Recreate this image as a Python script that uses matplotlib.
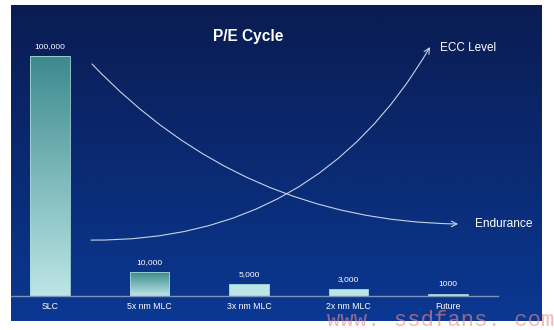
import numpy as np
import matplotlib
matplotlib.use("Agg")
import matplotlib.pyplot as plt
from matplotlib.colors import LinearSegmentedColormap

categories = ["SLC", "5x nm MLC", "3x nm MLC", "2x nm MLC", "Future"]
values = [100000, 10000, 5000, 3000, 1000]
value_labels = ["100,000", "10,000", "5,000", "3,000", "1000"]
title = "P/E Cycle"
curve_labels = ["ECC Level", "Endurance"]

plt.rcParams['font.family'] = ['Liberation Sans', 'DejaVu Sans']

W, H = 554, 330
fig = plt.figure(figsize=(W / 100, H / 100), dpi=100, facecolor='white')
ax = fig.add_axes([11 / W, 9 / H, 531 / W, 316 / H])

xlim = (-0.392, 4.945)
ylim = (-10417, 121250)
ax.set_xlim(*xlim)
ax.set_ylim(*ylim)

# background gradient
bg = LinearSegmentedColormap.from_list("bg", ["#0a3892", "#0a1c52"])
grad = np.linspace(0, 1, 256).reshape(-1, 1)
ax.imshow(grad, aspect='auto', cmap=bg, origin='lower',
          extent=(0, 1, 0, 1), transform=ax.transAxes, zorder=0)

# bars with gradient
barcm = LinearSegmentedColormap.from_list("bar", ["#bde6e6", "#3c8a8e"])
bw = 0.40
x = np.arange(len(categories))
bars = ax.bar(x, values, width=bw, color='none', edgecolor='#a8d8d8',
              linewidth=0.6, zorder=3)
for b, v in zip(bars, values):
    x0 = b.get_x()
    if v >= 10000:
        g = np.linspace(0, 1, 256).reshape(-1, 1)
        im = ax.imshow(g, aspect='auto', cmap=barcm, origin='lower',
                       extent=(x0, x0 + bw, 0, v), zorder=2)
        im.set_clip_path(b)
    else:
        b.set_facecolor('#bce5e5')

for xi, v, lab in zip(x, values, value_labels):
    ax.annotate(lab, (xi, v), xytext=(0, 4), textcoords='offset points',
                ha='center', va='bottom', fontsize=6.1, color='white', zorder=5)

# baseline
ax.axhline(0, xmin=0, xmax=487 / 531, color='#8090b8', linewidth=1.0, zorder=4)

ax.set_xticks(x)
ax.set_xticklabels(categories, fontsize=6.3, color='white')
ax.tick_params(axis='x', length=0, pad=0)
ax.set_yticks([])
for s in ax.spines.values():
    s.set_visible(False)
for t in ax.get_xticklabels():
    t.set_transform(ax.get_xaxis_transform())
    t.set_position((t.get_position()[0], 0.047))
    t.set_va('center')

# title
ax.text(0.447, 0.9, title, transform=ax.transAxes, ha='center', va='center',
        fontsize=11.2, fontweight='bold', color='white', zorder=5)

# conceptual curves
curve_col = '#c8d2e6'
ax.annotate("", xy=(0.842, 0.307), xytext=(0.1525, 0.8133),
            xycoords='axes fraction', textcoords='axes fraction',
            arrowprops=dict(arrowstyle='->', color=curve_col, lw=0.8,
                            connectionstyle='arc3,rad=0.21',
                            shrinkA=0, shrinkB=0), zorder=5)
ax.annotate("", xy=(0.789, 0.867), xytext=(0.1507, 0.256),
            xycoords='axes fraction', textcoords='axes fraction',
            arrowprops=dict(arrowstyle='->', color=curve_col, lw=0.8,
                            connectionstyle='arc3,rad=0.29',
                            shrinkA=0, shrinkB=0), zorder=5)
ax.text(0.808, 0.864, curve_labels[0], transform=ax.transAxes, ha='left',
        va='center', fontsize=8.5, color='white', zorder=5)
ax.text(0.874, 0.307, curve_labels[1], transform=ax.transAxes, ha='left',
        va='center', fontsize=8.6, color='white', zorder=5)

# watermark
fig.text(327 / W, 4 / H, "www. ssdfans. com", fontsize=16,
         family='Liberation Mono', color='#ee8c8c', alpha=0.6,
         ha='left', va='baseline')

fig.savefig("out.png", dpi=100, facecolor='white')
